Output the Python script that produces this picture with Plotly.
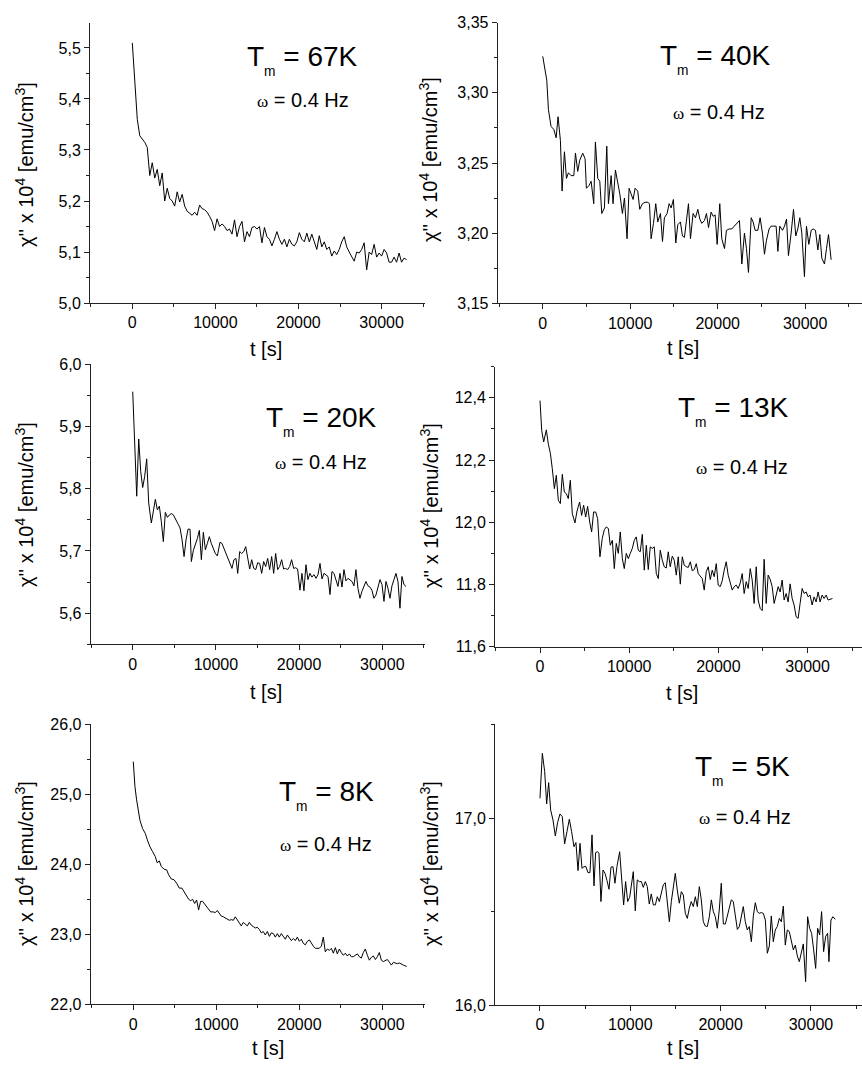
import plotly.graph_objects as go

W, H = 862, 1067

# ---------------- data (t in s, chi'' x 10^4 in emu/cm^3) ----------------
t_67K = [0, 300, 600, 900, 1200, 1500, 1800, 2100, 2400, 2700, 3000, 3300, 3600, 3900, 4200, 4500, 4800, 5100, 5400, 5700,
         6000, 6300, 6600, 6900, 7200, 7500, 7800, 8100, 8400, 8700, 9000, 9300, 9600, 9900, 10200, 10500, 10800, 11100, 11400, 11700,
         12000, 12300, 12600, 12900, 13200, 13500, 13800, 14100, 14400, 14700, 15000, 15300, 15600, 15900, 16200, 16500, 16800, 17100, 17400, 17700,
         18000, 18300, 18600, 18900, 19200, 19500, 19800, 20100, 20400, 20700, 21000, 21300, 21600, 21900, 22200, 22500, 22800, 23100, 23400, 23700,
         24000, 24300, 24600, 24900, 25200, 25500, 25800, 26100, 26400, 26700, 27000, 27300, 27600, 27900, 28200, 28500, 28800, 29100, 29400, 29700,
         30000, 30300, 30600, 30900, 31200, 31500, 31800, 32100, 32400, 32700, 33000]
chi_67K = [5.51, 5.44, 5.36, 5.328, 5.322, 5.315, 5.305, 5.25, 5.275, 5.245,
           5.262, 5.23, 5.255, 5.20, 5.225, 5.205, 5.20, 5.19, 5.218, 5.198,
           5.213, 5.19, 5.18, 5.175, 5.172, 5.178, 5.172, 5.192, 5.185, 5.183,
           5.178, 5.17, 5.16, 5.142, 5.165, 5.15, 5.155, 5.15, 5.142, 5.145,
           5.135, 5.163, 5.13, 5.15, 5.16, 5.12, 5.14, 5.13, 5.148, 5.15,
           5.145, 5.15, 5.118, 5.148, 5.13, 5.125, 5.112, 5.125, 5.14, 5.125,
           5.115, 5.125, 5.11, 5.125, 5.115, 5.112, 5.12, 5.138, 5.125, 5.12,
           5.137, 5.12, 5.135, 5.12, 5.105, 5.132, 5.11, 5.12, 5.105, 5.11,
           5.092, 5.102, 5.095, 5.105, 5.12, 5.13, 5.11, 5.10, 5.092, 5.082,
           5.10, 5.098, 5.105, 5.118, 5.065, 5.1, 5.095, 5.115, 5.09, 5.098,
           5.092, 5.105, 5.098, 5.08, 5.08, 5.09, 5.08, 5.098, 5.08, 5.088, 5.085]

t_40K = [0, 460, 650, 950, 1260, 1530, 1750, 2020, 2210, 2480, 2710, 2940, 3240, 3550, 3740, 4000, 4230, 4570, 4840, 4990,
         5300, 5530, 5830, 6020, 6290, 6520, 6750, 7050, 7320, 7510, 7820, 8040, 8310, 8580, 8810, 9110, 9340, 9640, 9870, 10100,
         10330, 10560, 10860, 11090, 11400, 11700, 12010, 12200, 12390, 12660, 12920, 13150, 13460, 13690, 13910, 14220, 14450, 14680, 14940, 15210,
         15440, 15740, 15970, 16200, 16430, 16660, 16890, 17190, 17460, 17730, 17960, 18180, 18490, 18720, 18950, 19250, 19480, 19710, 19940, 20240,
         20470, 20780, 21000, 21310, 21610, 21920, 22220, 22490, 22760, 23060, 23290, 23520, 23830, 24050, 24280, 24590, 24850, 25120, 25350, 25580,
         25880, 26110, 26420, 26680, 26880, 27100, 27410, 27640, 27870, 28090, 28400, 28670, 28930, 29160, 29390, 29620, 29920, 30150, 30420, 30690,
         30920, 31180, 31450, 31680, 31910, 32210, 32440, 32670, 32970]
chi_40K = [3.326, 3.309, 3.288, 3.276, 3.274, 3.268, 3.283, 3.266, 3.23, 3.258, 3.239, 3.243, 3.241, 3.241, 3.257, 3.244, 3.252, 3.257, 3.253, 3.232,
           3.234, 3.237, 3.221, 3.265, 3.239, 3.237, 3.214, 3.218, 3.262, 3.221, 3.241, 3.221, 3.245, 3.236, 3.228, 3.214, 3.225, 3.196, 3.232, 3.228,
           3.224, 3.232, 3.23, 3.217, 3.221, 3.222, 3.222, 3.221, 3.196, 3.207, 3.221, 3.208, 3.214, 3.194, 3.211, 3.214, 3.221, 3.218, 3.224, 3.193,
           3.206, 3.208, 3.198, 3.197, 3.209, 3.221, 3.196, 3.214, 3.211, 3.217, 3.21, 3.207, 3.209, 3.214, 3.204, 3.215, 3.212, 3.213, 3.192, 3.221,
           3.196, 3.189, 3.202, 3.203, 3.203, 3.205, 3.207, 3.209, 3.178, 3.2, 3.189, 3.172, 3.211, 3.208, 3.202, 3.202, 3.211, 3.2, 3.185, 3.195,
           3.203, 3.205, 3.205, 3.205, 3.187, 3.205, 3.202, 3.205, 3.21, 3.184, 3.2, 3.217, 3.198, 3.203, 3.211, 3.2, 3.169, 3.205, 3.192, 3.202,
           3.203, 3.202, 3.188, 3.199, 3.182, 3.178, 3.189, 3.199, 3.181]

t_20K = [0, 480, 720, 960, 1200, 1440, 1680, 1920, 2240, 2480, 2720, 2960, 3200, 3440, 3680, 3920, 4170, 4410, 4650, 4890,
         5210, 5450, 5690, 5930, 6170, 6410, 6650, 6890, 7050, 7290, 7530, 7770, 8010, 8250, 8490, 8730, 8970, 9210, 9450, 9690,
         9930, 10170, 10490, 10730, 10970, 11210, 11450, 11690, 11930, 12170, 12410, 12620, 12860, 13100, 13340, 13580, 13820, 14060, 14300, 14540,
         14780, 15020, 15260, 15500, 15740, 15980, 16220, 16460, 16700, 16940, 17180, 17420, 17660, 17900, 18140, 18380, 18620, 18860, 19100, 19340,
         19580, 19820, 20100, 20340, 20580, 20820, 21060, 21300, 21540, 21780, 22030, 22270, 22510, 22750, 22990, 23230, 23470, 23710, 23950, 24190,
         24430, 24670, 24910, 25150, 25390, 25630, 25870, 26110, 26350, 26590, 26830, 27070, 27310, 27550, 27790, 28030, 28270, 28510, 28750, 28990,
         29230, 29480, 29720, 29960, 30200, 30440, 30680, 30920, 31160, 31400, 31640, 31880, 32120, 32360, 32600, 32840]
chi_20K = [5.956, 5.788, 5.88, 5.828, 5.802, 5.82, 5.848, 5.777, 5.745, 5.766, 5.783, 5.766, 5.772, 5.747, 5.715, 5.762, 5.754, 5.758, 5.76, 5.758,
           5.75, 5.742, 5.737, 5.718, 5.691, 5.718, 5.735, 5.735, 5.683, 5.701, 5.71, 5.72, 5.733, 5.686, 5.73, 5.702, 5.712, 5.723, 5.712, 5.702,
           5.696, 5.692, 5.714, 5.712, 5.704, 5.699, 5.691, 5.683, 5.672, 5.686, 5.688, 5.664, 5.699, 5.696, 5.699, 5.707, 5.691, 5.671, 5.686, 5.672,
           5.67, 5.681, 5.68, 5.664, 5.683, 5.675, 5.688, 5.67, 5.691, 5.664, 5.696, 5.67, 5.675, 5.686, 5.671, 5.672, 5.67, 5.675, 5.686, 5.672,
           5.673, 5.671, 5.637, 5.664, 5.636, 5.678, 5.654, 5.664, 5.658, 5.662, 5.656, 5.662, 5.68, 5.655, 5.664, 5.662, 5.659, 5.63, 5.667, 5.664,
           5.652, 5.643, 5.664, 5.642, 5.67, 5.652, 5.656, 5.654, 5.651, 5.644, 5.67, 5.64, 5.624, 5.635, 5.644, 5.651, 5.644, 5.642, 5.637, 5.624,
           5.629, 5.643, 5.654, 5.646, 5.619, 5.651, 5.64, 5.624, 5.644, 5.654, 5.664, 5.651, 5.608, 5.659, 5.646, 5.643]

t_13K = [0, 190, 410, 710, 930, 1160, 1380, 1610, 1830, 2050, 2280, 2500, 2730, 2950, 3170, 3400, 3620, 3920, 4150, 4440,
         4670, 4890, 5120, 5340, 5570, 5790, 6010, 6240, 6460, 6720, 6980, 7210, 7430, 7660, 7880, 8110, 8330, 8550, 8780, 9000,
         9230, 9450, 9670, 9900, 10120, 10350, 10570, 10790, 11020, 11240, 11470, 11690, 11920, 12140, 12360, 12590, 12810, 13040, 13260, 13480,
         13710, 13930, 14160, 14380, 14600, 14830, 15050, 15280, 15500, 15730, 15950, 16170, 16400, 16620, 16850, 17070, 17290, 17520, 17740, 17970,
         18190, 18410, 18640, 18860, 19090, 19310, 19530, 19760, 19980, 20210, 20430, 20650, 20880, 21100, 21330, 21550, 21770, 22000, 22220, 22450,
         22670, 22890, 23120, 23340, 23570, 23790, 24010, 24240, 24460, 24690, 24910, 25130, 25360, 25580, 25810, 26030, 26250, 26480, 26700, 26920,
         27150, 27370, 27600, 27820, 28040, 28270, 28490, 28720, 28940, 29160, 29390, 29610, 29840, 30060, 30280, 30510, 30730, 30960, 31180, 31400,
         31630, 31850, 32080, 32300, 32600, 32790]
chi_13K = [12.391, 12.295, 12.258, 12.297, 12.252, 12.222, 12.172, 12.108, 12.151, 12.071, 12.06, 12.154, 12.097, 12.092, 12.076, 12.135, 12.028, 11.998, 12.036, 12.065,
           12.022, 12.055, 12.017, 12.051, 12.001, 11.969, 12.033, 12.033, 12.012, 11.889, 11.948, 11.976, 11.985, 11.98, 11.926, 11.942, 11.851, 11.932, 11.9, 11.969,
           11.883, 11.851, 11.9, 11.883, 11.9, 11.916, 11.942, 11.953, 11.91, 11.905, 11.961, 11.846, 11.926, 11.848, 11.921, 11.916, 11.921, 11.835, 11.819, 11.91,
           11.878, 11.857, 11.853, 11.905, 11.857, 11.891, 11.878, 11.83, 11.889, 11.801, 11.889, 11.862, 11.857, 11.855, 11.873, 11.844, 11.848, 11.867, 11.835, 11.825,
           11.819, 11.782, 11.841, 11.857, 11.816, 11.846, 11.825, 11.867, 11.798, 11.793, 11.812, 11.846, 11.873, 11.83, 11.805, 11.782, 11.793, 11.798, 11.787, 11.805,
           11.835, 11.771, 11.809, 11.787, 11.851, 11.814, 11.739, 11.857, 11.75, 11.723, 11.716, 11.881, 11.739, 11.83, 11.816, 11.793, 11.739, 11.766, 11.793, 11.776,
           11.814, 11.75, 11.771, 11.744, 11.802, 11.755, 11.734, 11.696, 11.691, 11.739, 11.787, 11.771, 11.776, 11.76, 11.766, 11.734, 11.76, 11.744, 11.776, 11.744,
           11.766, 11.755, 11.766, 11.75, 11.752, 11.755]

t_8K = [0, 200, 400, 600, 800, 1120, 1450, 1690, 2010, 2330, 2650, 2890, 3130, 3370, 3700, 4020, 4260, 4580, 4900, 5220,
        5540, 5860, 6100, 6430, 6670, 6910, 7150, 7390, 7630, 7870, 8110, 8350, 8590, 8830, 9080, 9320, 9640, 9880, 10120, 10360,
        10600, 10840, 11080, 11330, 11570, 11810, 12050, 12290, 12530, 12770, 13010, 13250, 13490, 13740, 13980, 14220, 14460, 14700, 14940, 15180,
        15420, 15660, 15900, 16150, 16390, 16630, 16870, 17110, 17350, 17590, 17830, 18070, 18310, 18560, 18800, 19040, 19280, 19520, 19760, 20000,
        20240, 20480, 20720, 20970, 21210, 21450, 21690, 21930, 22170, 22410, 22650, 22890, 23130, 23380, 23620, 23860, 24100, 24340, 24580, 24820,
        25060, 25300, 25540, 25790, 26030, 26270, 26510, 26750, 26990, 27230, 27470, 27710, 27950, 28200, 28440, 28680, 28920, 29160, 29400, 29640,
        29880, 30120, 30360, 30610, 30850, 31090, 31330, 31570, 31810, 32050, 32290, 32530, 32930]
chi_8K = [25.467, 25.11, 24.92, 24.75, 24.63, 24.51, 24.44, 24.35, 24.25, 24.18, 24.11, 24.02, 24.05, 23.97, 23.93, 23.92, 23.85, 23.79, 23.78, 23.73,
          23.66, 23.66, 23.61, 23.56, 23.50, 23.48, 23.50, 23.44, 23.49, 23.35, 23.47, 23.47, 23.43, 23.39, 23.35, 23.32, 23.32, 23.31, 23.34, 23.30,
          23.26, 23.25, 23.23, 23.21, 23.20, 23.21, 23.20, 23.25, 23.20, 23.16, 23.12, 23.17, 23.15, 23.12, 23.17, 23.13, 23.11, 23.09, 23.10, 23.07,
          23.02, 23.04, 22.99, 23.04, 22.97, 23.02, 23.01, 22.96, 23.01, 22.96, 23.01, 22.96, 22.93, 22.99, 22.94, 22.91, 22.94, 22.91, 22.96, 22.90,
          22.93, 22.87, 22.85, 22.90, 22.92, 22.87, 22.83, 22.80, 22.80, 22.80, 22.83, 22.96, 22.75, 22.79, 22.77, 22.80, 22.73, 22.81, 22.72, 22.79,
          22.74, 22.70, 22.73, 22.69, 22.72, 22.68, 22.68, 22.70, 22.72, 22.68, 22.66, 22.74, 22.79, 22.70, 22.63, 22.67, 22.69, 22.64, 22.68, 22.74,
          22.63, 22.61, 22.63, 22.64, 22.60, 22.56, 22.60, 22.59, 22.58, 22.59, 22.58, 22.56, 22.54]

t_5K = [0, 260, 520, 740, 960, 1180, 1440, 1700, 1950, 2210, 2470, 2730, 2990, 3250, 3500, 3760, 3980, 4210, 4430, 4650,
        4870, 5090, 5310, 5530, 5760, 5980, 6160, 6350, 6530, 6750, 6980, 7200, 7420, 7640, 7860, 8080, 8300, 8520, 8820, 9040,
        9260, 9480, 9710, 9930, 10150, 10330, 10550, 10770, 11000, 11220, 11440, 11660, 11880, 12100, 12320, 12550, 12770, 12990, 13210, 13430,
        13650, 13870, 14100, 14320, 14540, 14760, 14980, 15200, 15420, 15650, 15870, 16090, 16310, 16530, 16750, 16970, 17200, 17420, 17640, 17860,
        18080, 18300, 18520, 18750, 18970, 19190, 19410, 19630, 19850, 20070, 20300, 20520, 20740, 20960, 21180, 21400, 21620, 21850, 22070, 22290,
        22510, 22730, 22950, 23170, 23400, 23620, 23840, 24060, 24280, 24500, 24720, 24950, 25170, 25390, 25610, 25830, 26050, 26270, 26500, 26720,
        26940, 27160, 27380, 27600, 27820, 28050, 28270, 28490, 28710, 28930, 29150, 29410, 29630, 29850, 30070, 30300, 30520, 30740, 30960, 31180,
        31400, 31620, 31840, 31990, 32210, 32430, 32690]
chi_5K = [17.107, 17.348, 17.25, 17.077, 17.191, 17.045, 16.991, 16.905, 16.977, 17.023, 17.009, 16.863, 16.929, 16.995, 16.929, 16.848, 16.87, 16.72, 16.866, 16.732,
          16.741, 16.741, 16.709, 16.709, 16.911, 16.638, 16.816, 16.821, 16.813, 16.554, 16.723, 16.705, 16.666, 16.62, 16.738, 16.741, 16.652, 16.741, 16.821, 16.67,
          16.536, 16.661, 16.554, 16.577, 16.643, 16.714, 16.504, 16.67, 16.661, 16.661, 16.63, 16.661, 16.634, 16.541, 16.595, 16.536, 16.536, 16.58, 16.554, 16.598,
          16.643, 16.655, 16.554, 16.446, 16.554, 16.634, 16.705, 16.616, 16.545, 16.607, 16.589, 16.491, 16.464, 16.518, 16.554, 16.527, 16.58, 16.527, 16.634, 16.563,
          16.446, 16.423, 16.42, 16.473, 16.563, 16.5, 16.473, 16.411, 16.509, 16.652, 16.434, 16.434, 16.482, 16.527, 16.563, 16.554, 16.491, 16.405, 16.42, 16.473,
          16.527, 16.446, 16.402, 16.42, 16.339, 16.477, 16.548, 16.5, 16.491, 16.495, 16.491, 16.455, 16.277, 16.316, 16.477, 16.339, 16.402, 16.42, 16.464, 16.446,
          16.53, 16.321, 16.402, 16.393, 16.345, 16.295, 16.321, 16.263, 16.232, 16.277, 16.327, 16.125, 16.473, 16.411, 16.384, 16.295, 16.196, 16.411, 16.375, 16.5,
          16.286, 16.366, 16.384, 16.232, 16.455, 16.473, 16.459]

# tick values / labels
x_ticks = [0, 10000, 20000, 30000]
x_ticklabels = ["0", "10000", "20000", "30000"]
y_ticks_67K = [5.0, 5.1, 5.2, 5.3, 5.4, 5.5]
y_labels_67K = ["5,0", "5,1", "5,2", "5,3", "5,4", "5,5"]
y_ticks_40K = [3.15, 3.20, 3.25, 3.30, 3.35]
y_labels_40K = ["3,15", "3,20", "3,25", "3,30", "3,35"]
y_ticks_20K = [5.6, 5.7, 5.8, 5.9, 6.0]
y_labels_20K = ["5,6", "5,7", "5,8", "5,9", "6,0"]
y_ticks_13K = [11.6, 11.8, 12.0, 12.2, 12.4]
y_labels_13K = ["11,6", "11,8", "12,0", "12,2", "12,4"]
y_ticks_8K = [22.0, 23.0, 24.0, 25.0, 26.0]
y_labels_8K = ["22,0", "23,0", "24,0", "25,0", "26,0"]
y_ticks_5K = [16.0, 17.0]
y_labels_5K = ["16,0", "17,0"]

temps = ["67K", "40K", "20K", "13K", "8K", "5K"]
freq_label = "<span style=\"font-family:'Liberation Serif', serif; font-size:17px\">ω</span> = 0.4 Hz"

# ---------------- layout per panel (pixel geometry) ----------------
panels = [
    dict(t=t_67K, v=chi_67K, yt=y_ticks_67K, yl=y_labels_67K, xr=[-5090, 35220], yr=[5.0, 5.549], ymin=0.05,
         px=[90, 425], py=[23, 303], tm=(302, 60), om=(303, 100), xtl=(266, 349), ytl=(24, 165)),
    dict(t=t_40K, v=chi_40K, yt=y_ticks_40K, yl=y_labels_40K, xr=[-5150, 36500], yr=[3.15, 3.35], ymin=0.025,
         px=[497.7, 862], py=[22.7, 303.3], tm=(715, 59), om=(719, 112), xtl=(683, 348), ytl=(429, 160)),
    dict(t=t_20K, v=chi_20K, yt=y_ticks_20K, yl=y_labels_20K, xr=[-5050, 35130], yr=[5.55, 6.0], ymin=0.05,
         px=[90.7, 425], py=[364.3, 644.3], tm=(321, 421), om=(321, 462), xtl=(266, 692), ytl=(24, 505)),
    dict(t=t_13K, v=chi_13K, yt=y_ticks_13K, yl=y_labels_13K, xr=[-5045, 36100], yr=[11.6, 12.5], ymin=0.1,
         px=[495, 862], py=[366.7, 646.7], tm=(733, 411), om=(742, 467), xtl=(682, 693), ytl=(429, 506)),
    dict(t=t_8K, v=chi_8K, yt=y_ticks_8K, yl=y_labels_8K, xr=[-5130, 35140], yr=[22.0, 26.0], ymin=0.5,
         px=[90.7, 425], py=[724.3, 1004.3], tm=(326, 795), om=(326, 844), xtl=(268, 1048), ytl=(24, 864)),
    dict(t=t_5K, v=chi_5K, yt=y_ticks_5K, yl=y_labels_5K, xr=[-4980, 35650], yr=[16.0, 17.505], ymin=0.5,
         px=[495, 862], py=[724, 1005], tm=(742, 770), om=(745, 817), xtl=(683, 1048), ytl=(429, 864)),
]

FONT = "Arial, Liberation Sans, sans-serif"
fig = go.Figure()
layout = dict(width=W, height=H, margin=dict(l=0, r=0, t=0, b=0, pad=0),
              paper_bgcolor="white", plot_bgcolor="white", showlegend=False,
              font=dict(family=FONT, color="black"))
annotations = []

def px2x(p):
    return p / W

def py2y(p):
    return 1 - p / H

for i, p in enumerate(panels):
    n = i + 1
    xa = "xaxis" if n == 1 else f"xaxis{n}"
    ya = "yaxis" if n == 1 else f"yaxis{n}"
    xr = "x" if n == 1 else f"x{n}"
    yr = "y" if n == 1 else f"y{n}"
    fig.add_trace(go.Scatter(x=p["t"], y=p["v"], mode="lines", xaxis=xr, yaxis=yr,
                             line=dict(color="black", width=1)))
    layout[xa] = dict(domain=[px2x(p["px"][0]), min(1.0, px2x(p["px"][1]))], anchor=yr,
                      range=p["xr"], showline=True, linecolor="#222", linewidth=1,
                      ticks="outside", ticklen=5, tickcolor="#222", tickmode="array",
                      tickvals=x_ticks, ticktext=x_ticklabels, showgrid=False, zeroline=False,
                      automargin=False,
                      tickfont=dict(size=16, family=FONT, color="black"),
                      minor=dict(ticks="outside", ticklen=3, tickcolor="#222", dtick=5000, tick0=-5000, showgrid=False))
    layout[ya] = dict(domain=[py2y(p["py"][1]), py2y(p["py"][0])], anchor=xr,
                      range=p["yr"], showline=True, linecolor="#222", linewidth=1,
                      ticks="outside", ticklen=5, tickcolor="#222", tickmode="array",
                      tickvals=p["yt"], ticktext=p["yl"], showgrid=False, zeroline=False,
                      automargin=False,
                      tickfont=dict(size=16, family=FONT, color="black"),
                      minor=dict(ticks="outside", ticklen=3, tickcolor="#222", dtick=p["ymin"], tick0=p["yt"][0], showgrid=False))
    annotations.append(dict(x=px2x(p["tm"][0]), y=py2y(p["tm"][1]), xref="paper", yref="paper",
                            text=f"T<sub><sub>m</sub></sub> = {temps[i]}", showarrow=False,
                            xanchor="center", yanchor="middle", font=dict(size=28, family=FONT, color="black")))
    annotations.append(dict(x=px2x(p["om"][0]), y=py2y(p["om"][1]), xref="paper", yref="paper",
                            text=freq_label, showarrow=False,
                            xanchor="center", yanchor="middle", font=dict(size=20, family=FONT, color="black")))
    annotations.append(dict(x=px2x(p["xtl"][0]), y=py2y(p["xtl"][1]), xref="paper", yref="paper",
                            text="t [s]", showarrow=False,
                            xanchor="center", yanchor="middle", font=dict(size=20, family=FONT, color="black")))
    annotations.append(dict(x=px2x(p["ytl"][0]), y=py2y(p["ytl"][1]), xref="paper", yref="paper",
                            text="χ'' x 10<sup>4</sup> [emu/cm<sup>3</sup>]", showarrow=False, textangle=-90,
                            xanchor="center", yanchor="middle", font=dict(size=20, family=FONT, color="black")))

layout["annotations"] = annotations
fig.update_layout(**layout)
fig.write_html("out.html", config={"displayModeBar": False},
               post_script="document.body.style.margin='0px';document.body.style.overflow='hidden';")
